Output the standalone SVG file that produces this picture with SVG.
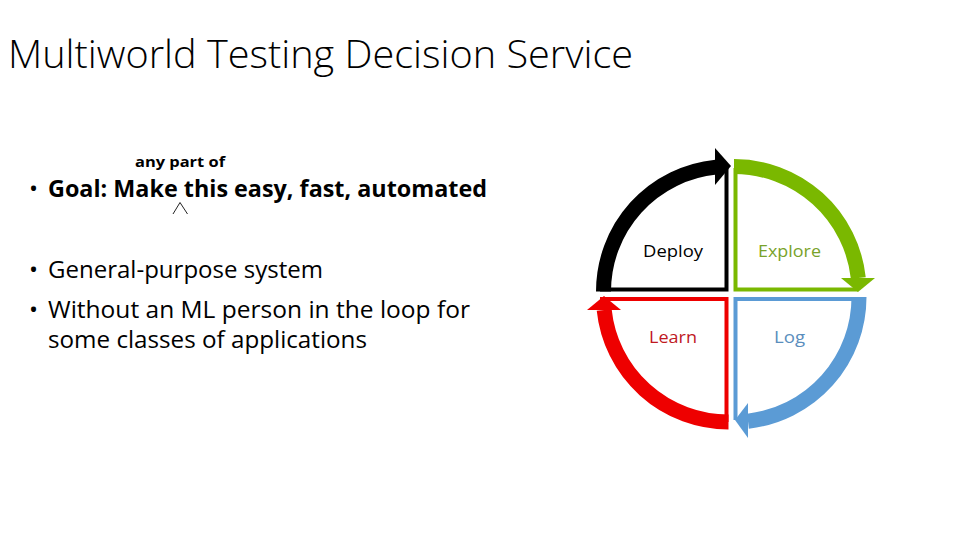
<svg xmlns="http://www.w3.org/2000/svg" width="960" height="540" viewBox="0 0 960 540">
<style>
  text { font-family: "Open Sans", "Noto Sans", "Liberation Sans", sans-serif; }
  .title { font-size: 38px; font-weight: 300; fill: #000; }
  .body { font-size: 24px; fill: #000; }
  .bold { font-weight: 700; }
  .lbl { font-size: 17px; }
  .thin { fill: none; stroke-width: 4; }
  .arc { fill: none; stroke-width: 15; stroke-linecap: butt; }
</style>
<rect width="960" height="540" fill="#fff"/>

<g id="title">
  <text class="title" x="8" y="68" textLength="625" lengthAdjust="spacingAndGlyphs">Multiworld Testing Decision Service</text>
</g>

<g id="bullets">
  <text class="body" x="29" y="197">•</text>
  <text class="body bold" x="48" y="197" textLength="439" lengthAdjust="spacingAndGlyphs">Goal: Make this easy, fast, automated</text>
  <text class="bold" x="135" y="167" font-size="15" textLength="90" lengthAdjust="spacingAndGlyphs">any part of</text>
  <polyline points="173,214 180,202.5 187.5,214" fill="none" stroke="#222" stroke-width="1"/>
  <text class="body" x="29" y="278">•</text>
  <text class="body" x="48" y="278" textLength="275" lengthAdjust="spacingAndGlyphs">General-purpose system</text>
  <text class="body" x="29" y="318">•</text>
  <text class="body" x="48" y="318" textLength="422" lengthAdjust="spacingAndGlyphs">Without an ML person in the loop for</text>
  <text class="body" x="48" y="348" textLength="319" lengthAdjust="spacingAndGlyphs">some classes of applications</text>
</g>

<g id="deploy">
  <path class="thin" stroke="#000" d="M726.5 168 V289.5 H600"/>
  <text class="lbl" x="643" y="257" fill="#000" textLength="60" lengthAdjust="spacingAndGlyphs">Deploy</text>
</g>
<g id="explore">
  <path class="thin" stroke="#7ab800" d="M735.5 168 V289.5 H858"/>
  <text class="lbl" x="758" y="257" fill="#78a22a" textLength="63" lengthAdjust="spacingAndGlyphs">Explore</text>
</g>
<g id="log">
  <path class="thin" stroke="#5b9bd5" d="M857 299 H735.5 V420"/>
  <text class="lbl" x="774" y="343" fill="#5a8ebd" textLength="31" lengthAdjust="spacingAndGlyphs">Log</text>
</g>
<g id="learn">
  <path class="thin" stroke="#ee0000" d="M600 299 H726.5 V422"/>
  <text class="lbl" x="649" y="343" fill="#c0191f" textLength="48" lengthAdjust="spacingAndGlyphs">Learn</text>
</g>

<g id="connectors">
  <path class="arc" stroke="#000" d="M603.5 291.5 A125 125 0 0 1 716 167.1"/>
  <polygon fill="#000" points="715,148 731,166 715,185"/>
  <path class="arc" stroke="#7ab800" d="M734 166.5 A125 125 0 0 1 858.3 278"/>
  <polygon fill="#7ab800" points="841,278 875,278 858,292"/>
  <path class="arc" stroke="#5b9bd5" d="M859 297 A125 125 0 0 1 748 421.2"/>
  <polygon fill="#5b9bd5" points="748,403 748,438 735,420"/>
  <path class="arc" stroke="#ee0000" d="M728.5 422 A125 125 0 0 1 604.2 310"/>
  <polygon fill="#ee0000" points="587,310 621,310 604,296"/>
</g>
</svg>
